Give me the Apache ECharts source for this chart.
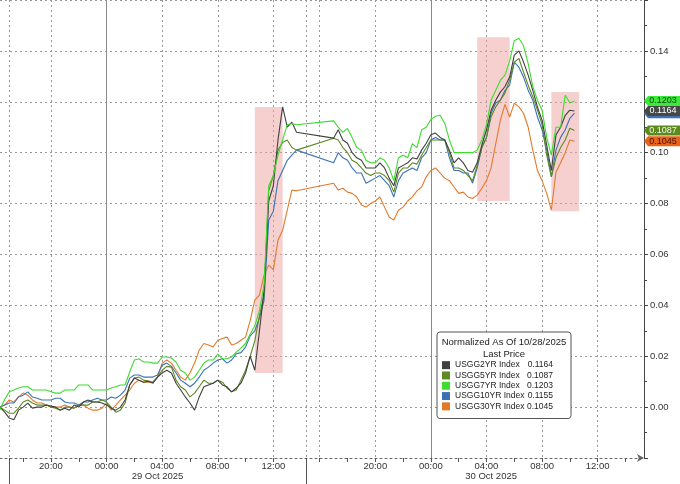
<!DOCTYPE html>
<html><head><meta charset="utf-8">
<script src="https://cdn.jsdelivr.net/npm/echarts@6/dist/echarts.min.js"></script>
<style>html,body{margin:0;padding:0;background:#fff}#c{width:680px;height:484px}</style>
</head><body><div id="c"></div>
<script>
// ---------- data ----------
const seriesNames = ['USGG2YR Index','USGG5YR Index','USGG7YR Index','USGG10YR Index','USGG30YR Index'];

const usgg2yr = [0,-0.002,-0.0043,-0.005,-0.0012,0,0.0016,-0.0004,0,0,0.0008,0.0004,0,-0.0012,-0.0004,-0.0012,0.0008,0,0.002,0.0028,
 0.002,0.002,0.0016,0.0008,-0.0004,-0.0012,0,0.0028,0.0087,0.0114,0.0106,0.0098,0.0102,0.0094,0.0118,0.0134,0.0145,0.0134,0.0094,0.0067,
 0.004,0.0016,-0.0012,0.004,0.008,0.0087,0.0094,0.0106,0.0087,0.008,0.006,0.0075,0.0094,0.0134,0.020,0.0145,0.030,0.046,0.081,0.087,
 0.105,0.118,0.110,0.112,0.108,null,null,null,null,null,null,null,
 0.1057,0.109,0.105,0.1037,0.100,0.098,0.097,0.094,0.094,0.094,0.096,0.094,0.090,0.087,0.094,0.095,0.096,0.098,0.0975,0.101,
 0.1037,0.107,0.1077,0.106,0.105,0.101,0.096,0.098,0.096,0.093,0.0923,0.096,0.103,0.109,0.1167,0.1206,0.1238,0.126,0.1297,0.1383,
 0.140,0.1356,0.1305,0.1245,0.118,0.1128,0.103,0.093,0.107,0.110,0.1147,0.1167,0.1164];

const usgg5yr = [0,-0.0012,-0.0024,-0.0024,-0.0004,0.002,0.0028,0.0016,0.0008,0.0008,0.0008,0,-0.0004,-0.0012,0,0,-0.0004,0.0008,0.0008,0.0008,
 0.002,0.002,0.0028,0.002,0,-0.002,-0.0012,0.0016,0.0087,0.0114,0.0118,0.0106,0.0102,0.0098,0.0118,0.0145,0.016,0.0157,0.0106,0.008,
 0.0067,0.004,0.0055,0.008,0.0106,0.0094,0.0094,0.0106,0.0098,0.0075,0.006,0.0067,0.0106,0.0145,0.020,0.026,0.036,0.044,0.085,0.091,
 0.101,0.104,0.105,0.102,0.101,null,null,null,null,null,null,null,
 0.1057,0.105,0.102,0.100,0.097,0.096,0.094,0.092,0.091,0.092,0.092,0.091,0.089,0.0845,0.092,0.094,0.094,0.096,0.0955,0.099,
 0.102,0.105,0.105,0.105,0.105,0.100,0.094,0.094,0.093,0.091,0.089,0.095,0.102,0.106,0.114,0.118,0.1206,0.1234,0.1285,0.1356,
 0.137,0.1316,0.1265,0.122,0.1167,0.111,0.099,0.0905,0.098,0.102,0.105,0.1096,0.1087];

const usgg7yr = [-0.001,0.003,0.006,0.0067,0.0075,0.008,0.008,0.0067,0.0067,0.0067,0.0067,0.006,0.0055,0.0055,0.0067,0.0067,0.0067,0.0087,0.0087,0.0087,
 0.0067,0.0067,0.0067,0.0067,0.0075,0.008,0.0087,0.0087,0.0138,0.0185,0.019,0.0177,0.0177,0.0173,0.0173,0.0197,0.0197,0.0193,0.0177,0.0145,
 0.0134,0.0106,0.0118,0.0145,0.0173,0.0185,0.0185,0.0208,0.019,0.019,0.0197,0.0216,0.0232,0.025,0.0287,0.032,0.038,0.048,0.087,0.091,
 0.099,0.105,0.111,0.1115,0.111,null,null,null,null,null,null,null,
 0.1125,0.110,0.108,0.1095,0.106,0.102,0.101,0.097,0.096,0.096,0.098,0.097,0.094,0.089,0.098,0.099,0.098,0.1035,0.102,0.109,
 0.110,0.113,0.1143,0.1147,0.1115,0.105,0.100,0.100,0.100,0.100,0.100,0.101,0.105,0.111,0.1206,0.1245,0.1285,0.1305,0.136,0.144,
 0.145,0.142,0.135,0.126,0.1206,0.1167,0.106,0.099,0.110,0.110,0.1226,0.1195,0.1203];

const usgg10yr = [0,0.0008,0.0016,0.0016,0.004,0.0047,0.006,0.004,0.0035,0.0028,0.0028,0.0028,0.0035,0.0035,0.002,0.0016,0.0016,0.0008,0.002,0.002,
 0.0028,0.0035,0.0028,0.0028,0.004,0.0035,0.0047,0.0067,0.0114,0.0126,0.0126,0.0118,0.0118,0.0118,0.0126,0.0165,0.0173,0.016,0.0134,0.0106,
 0.0094,0.008,0.0094,0.0118,0.0145,0.0157,0.0173,0.0185,0.019,0.0173,0.0185,0.021,0.0214,0.0236,0.028,0.030,0.035,0.042,0.0735,0.077,
 0.089,0.093,0.097,0.099,0.101,null,null,null,null,null,null,null,
 0.096,0.100,0.098,0.097,0.094,0.092,0.092,0.088,0.089,0.090,0.091,0.089,0.087,0.0826,0.089,0.092,0.093,0.094,0.093,0.098,
 0.100,0.105,0.106,0.105,0.105,0.098,0.093,0.093,0.092,0.092,0.088,0.094,0.102,0.106,0.1155,0.1195,0.1206,0.1245,0.1265,0.1356,
 0.1336,0.1297,0.1245,0.1206,0.114,0.109,0.101,0.0905,0.101,0.106,0.109,0.1135,0.1155];

const usgg30yr = [0,0.0008,0.0028,0.002,0.004,0.0055,0.0047,0.0028,0.0016,0.0016,0.0008,0,0,0,0.0008,0,-0.0004,0.0008,0.0008,-0.0004,
 -0.0012,-0.0012,-0.0004,0.0016,-0.0012,0.0008,0.0028,0.0047,0.0067,0.0094,0.0106,0.0098,0.0098,0.0098,0.0118,0.0173,0.0185,0.0173,0.0145,0.0118,
 0.0106,0.0134,0.0173,0.0224,0.025,0.0244,0.0236,0.0263,0.027,0.0275,0.0244,0.025,0.0263,0.0275,0.034,0.042,0.044,0.052,0.0558,0.054,
 0.0656,0.0695,0.0774,0.0853,0.085,null,null,null,null,null,null,null,
 0.088,0.0853,0.086,0.0845,0.084,0.0826,0.0794,0.0786,0.080,0.081,0.0826,0.0786,0.0747,0.0735,0.0774,0.0786,0.081,0.0826,0.085,0.0865,
 0.0905,0.093,0.094,0.092,0.090,0.089,0.0865,0.084,0.0845,0.0826,0.082,0.0833,0.086,0.089,0.094,0.1035,0.1128,0.119,0.114,0.1195,
 0.118,0.1155,0.110,0.101,0.093,0.089,0.084,0.0774,0.0923,0.096,0.100,0.105,0.1045];

// time categories (20-minute steps, with the session gap removed)
const cats = [];
(function () {
  const start = Date.UTC(2025, 9, 28, 16, 20);
  const p = n => String(n).padStart(2, '0');
  for (let i = 0; i < 140; i++) {
    const off = (i <= 59 ? i : i + 2) * 20;
    const d = new Date(start + off * 60000);
    cats.push(d.getUTCFullYear() + '-' + p(d.getUTCMonth() + 1) + '-' + p(d.getUTCDate()) + ' ' + p(d.getUTCHours()) + ':' + p(d.getUTCMinutes()));
  }
})();

const timeLabelsShown = ['20:00','00:00','04:00','08:00','12:00'];
const gridTimes = ['20:00','00:00','04:00','08:00','12:00','16:00'];
const sessionBreaks = ['2025-10-28 17:00','2025-10-29 15:00'];
const midnights = ['2025-10-29 00:00','2025-10-30 00:00'];
const dateLabels = [{at:'2025-10-29 03:40', text:'29 Oct 2025'},{at:'2025-10-30 04:20', text:'30 Oct 2025'}];
const highlightBoxes = [
  {from:'2025-10-29 10:40', to:'2025-10-29 13:20', low:0.0134, high:0.1179},
  {from:'2025-10-30 03:20', to:'2025-10-30 05:40', low:0.081, high:0.1454},
  {from:'2025-10-30 08:40', to:'2025-10-30 10:40', low:0.077, high:0.1238}
];
const yTicks = {min:-0.02, max:0.16, step:0.02};

// ---------- chart ----------
const FONT = 'Liberation Sans, Arial, sans-serif';
const styles = [
  {data:usgg2yr, color:'#404040', tag:'#474747', tagText:'#ffffff', z:5},
  {data:usgg5yr, color:'#5d8a22', tag:'#5d8a1e', tagText:'#f2f7e8', z:4},
  {data:usgg7yr, color:'#3ddc2e', tag:'#3be83b', tagText:'#0d3d0d', z:6},
  {data:usgg10yr, color:'#3b72b5', tag:'#3b72b5', tagText:'#ffffff', z:3},
  {data:usgg30yr, color:'#e27a2c', tag:'#e8631a', tagText:'#4a1000', z:2}
];
const lastVal = arr => { for (let i = arr.length - 1; i >= 0; i--) if (arr[i] != null) return arr[i]; return null; };
const byName = {};
seriesNames.forEach((n, k) => byName[n] = styles[k].data);
const TAG = 'path://M0,5L4,0L38,0L38,10L4,10Z';

const series = seriesNames.map((name, k) => {
  const s = styles[k];
  const lv = lastVal(s.data);
  const o = {
    type:'line', name, data:s.data, z:s.z, symbol:'none', showSymbol:false, connectNulls:true,
    lineStyle:{color:s.color, width:1.1}, itemStyle:{color:s.color}, animation:false,
    markPoint:{
      z: 20 + s.z, silent:true, symbol:TAG, symbolSize:[38,10], symbolOffset:[19,0],
      itemStyle:{color:s.tag},
      label:{show:true, position:'inside', color:s.tagText, fontSize:9, fontFamily:FONT, formatter:p => p.value.toFixed(4)},
      data:[{coord:[cats[cats.length - 1], lv], value:lv}]
    }
  };
  if (k === seriesNames.length - 1) {
    o.markArea = {
      silent:true, z:1,
      itemStyle:{color:'rgba(238,160,160,0.5)'},
      data: highlightBoxes.map(b => [{coord:[b.from, b.high]}, {coord:[b.to, b.low]}])
    };
    o.markLine = {
      silent:true, z:1, symbol:['none','none'],
      lineStyle:{color:'#8a8a8a', type:'solid', width:1},
      label:{show:false},
      data: midnights.map(m => ({xAxis:m}))
    };
  }
  return o;
});

const chart = echarts.init(document.getElementById('c'), null, {renderer:'canvas'});
chart.setOption({
  animation:false,
  backgroundColor:'#ffffff',
  grid:{left:0, right:36, top:0, bottom:26, containLabel:false, outerBoundsMode:'none'},
  xAxis:[{
    type:'category', data:cats, boundaryGap:false, position:'bottom',
    axisLine:{show:true, onZero:false, symbol:['none','arrow'], symbolSize:[6,7], lineStyle:{color:'#666', type:[2,3], width:1}},
    axisTick:{show:true, length:4, lineStyle:{color:'#555'},
      interval:(i, v) => v.slice(14) === '00' && (+v.slice(11,13)) % 2 === 0 && !(i > 59 && i < 69)},
    axisLabel:{interval:(i, v) => timeLabelsShown.includes(v.slice(11)), formatter:v => v.slice(11),
      margin:3, fontSize:9.5, color:'#333', fontFamily:FONT},
    splitLine:{show:true, interval:(i, v) => gridTimes.includes(v.slice(11)) || sessionBreaks.includes(v),
      lineStyle:{color:'#999', type:[2,3], width:1}}
  },{
    type:'category', data:cats, boundaryGap:false, position:'bottom',
    axisLine:{show:false, onZero:false},
    axisTick:{show:true, length:26, lineStyle:{color:'#555'}, interval:(i, v) => sessionBreaks.includes(v)},
    axisLabel:{interval:(i, v) => dateLabels.some(d => d.at === v),
      formatter:v => { const d = dateLabels.find(x => x.at === v); return d ? d.text : ''; },
      margin:13, fontSize:9.5, color:'#333', fontFamily:FONT},
    splitLine:{show:false}
  }],
  yAxis:{
    type:'value', position:'right', min:yTicks.min, max:yTicks.max, interval:yTicks.step,
    axisLine:{show:true, lineStyle:{color:'#444', width:1}},
    axisTick:{show:true, length:4, lineStyle:{color:'#444'}},
    minorTick:{show:true, splitNumber:2, length:3, lineStyle:{color:'#444'}},
    axisLabel:{margin:6, fontSize:9.5, color:'#333', fontFamily:FONT,
      formatter:v => (v < yTicks.min + 0.001 || v > yTicks.max - 0.001) ? '' : v.toFixed(2)},
    splitLine:{show:true, lineStyle:{color:'#999', type:[2,3], width:1}}
  },
  legend:{
    data:seriesNames, orient:'vertical', left:437, top:332, padding:[28,18,7,5],
    itemGap:0, itemWidth:8, itemHeight:8, icon:'rect', selectedMode:false,
    backgroundColor:'#fff', borderColor:'#555', borderWidth:1, borderRadius:3, z:10,
    formatter:name => '{n|' + name + '}{v|' + lastVal(byName[name]).toFixed(4) + '}',
    textStyle:{fontFamily:FONT, color:'#222', fontSize:8.5, lineHeight:10.3,
      rich:{n:{width:71, fontSize:8.5, fontFamily:FONT, color:'#222', lineHeight:10.3},
            v:{width:27, align:'right', fontSize:8.5, fontFamily:FONT, color:'#222', lineHeight:10.3}}}
  },
  graphic:[
    {type:'text', x:504, y:342, z:30, style:{text:'Normalized As Of 10/28/2025', fill:'#222', font:'9.5px ' + FONT, align:'center', verticalAlign:'middle'}},
    {type:'text', x:504, y:354, z:30, style:{text:'Last Price', fill:'#222', font:'9.5px ' + FONT, align:'center', verticalAlign:'middle'}}
  ],
  series
});
</script>
</body></html>
